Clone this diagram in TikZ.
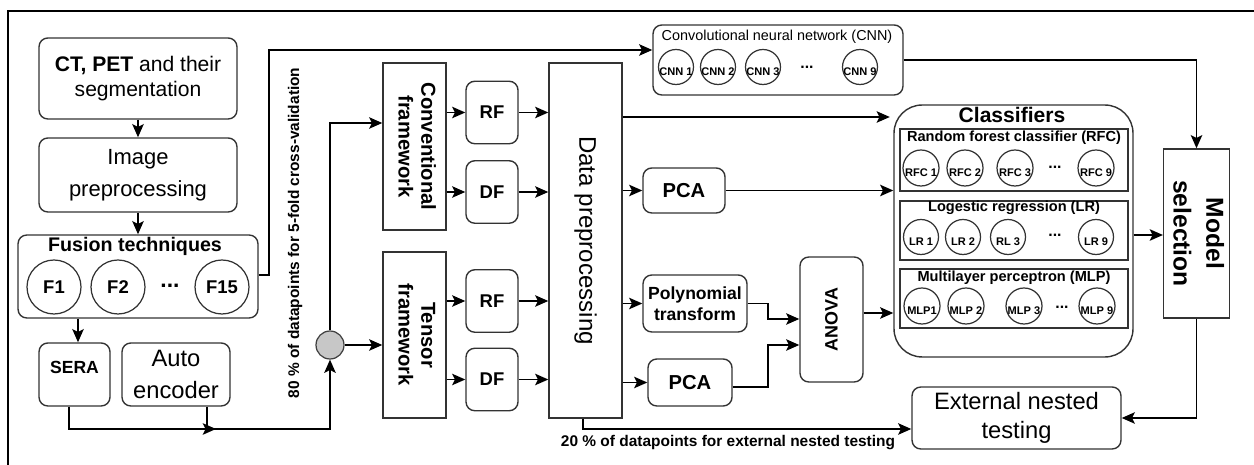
\documentclass[tikz,border=0pt]{standalone}
\usepackage{fontspec}
\setmainfont{Liberation Sans}
\usetikzlibrary{arrows.meta}

\newcommand{\rotlab}[2]{\rotatebox{#1}{\begin{tabular}{@{}c@{}}#2\end{tabular}}}

\tikzset{
  box/.style={draw=black!80, line width=0.8pt, inner sep=0pt, align=center},
  rbox/.style={box, rounded corners=5pt},
  featbox/.style={rbox, minimum width=1.04cm, minimum height=1.25cm, font=\fontsize{10.5}{12}\selectfont\bfseries},
  subbox/.style={box, minimum width=4.56cm, minimum height=1.18cm},
  unit/.style={circle, draw=black!80, line width=0.7pt, minimum size=#1, inner sep=0pt},
  ulbl/.style={font=\fontsize{6.3}{7}\selectfont\bfseries, yshift=-2.6pt},
  subttl/.style={font=\fontsize{8.3}{10}\selectfont\bfseries},
  dots/.style={font=\fontsize{9}{10}\selectfont\bfseries},
  arr/.style={line width=1.1pt, -{Stealth[length=7.5pt,width=6.5pt,inset=1.6pt]}},
}

\begin{document}
\begin{tikzpicture}[x=0.02cm, y=-0.02cm]
\useasboundingbox (0,0) rectangle (1254,465);
\draw[line width=0.8pt] (8,465) -- (8,11) -- (1254,11);

% input side
\node[rbox, minimum width=3.96cm, minimum height=1.62cm, font=\fontsize{12}{14.2}\selectfont] (ct) at (138,78.5) {\textbf{CT, PET} and their\\segmentation};
\node[rbox, minimum width=3.96cm, minimum height=1.48cm, font=\fontsize{12.5}{14.5}\selectfont] (img) at (138,175) {Image\\[3.5pt]preprocessing};
\node[rbox, minimum width=4.8cm, minimum height=1.66cm] (fus) at (138,276.5) {};
\node[font=\fontsize{11.2}{13}\selectfont\bfseries] (fusttl) at (135,246) {Fusion techniques};
\foreach \name/\x/\txt in {f1/54/F1, f2/118/F2, f15/222/F15}
  \node[unit=1.08cm, font=\fontsize{10.5}{12}\selectfont\bfseries] (\name) at (\x,287) {\txt};
\node[font=\fontsize{13}{14}\selectfont\bfseries] (fdots) at (170,286) {...};

\node[rbox, minimum width=1.42cm, minimum height=1.26cm,
  label={[font=\fontsize{10}{12}\selectfont\bfseries, yshift=4.2pt]center:SERA}] (sera) at (74.5,374.5) {};
\node[rbox, minimum width=2.16cm, minimum height=1.26cm, font=\fontsize{13.5}{18}\selectfont] (auto) at (176,374.5) {Auto\\encoder};

\node[circle, draw=black!75, fill=black!22, line width=0.7pt, minimum size=0.56cm, inner sep=0pt] (split) at (330,345) {};
\node[rotate=90, font=\fontsize{8.8}{10}\selectfont\bfseries] (cvlbl) at (295,233) {80 \% of datapoints for 5-fold cross-validation};

% frameworks and features
\node[box, minimum width=1.26cm, minimum height=3.34cm, font=\fontsize{11.5}{13}\selectfont\bfseries] (conv) at (414.5,146.5) {\rotlab{-90}{Conventional\\framework}};
\node[box, minimum width=1.26cm, minimum height=3.32cm, font=\fontsize{11.5}{13}\selectfont\bfseries] (tens) at (414.5,335) {\rotlab{-90}{Tensor\\framework}};
\node[featbox] (rf1) at (492,112.5) {RF};
\node[featbox] (df1) at (492,192) {DF};
\node[featbox] (rf2) at (492,301) {RF};
\node[featbox] (df2) at (492,379.5) {DF};

\node[box, minimum width=1.46cm, minimum height=7.1cm, font=\fontsize{13.7}{16}\selectfont] (dp) at (585.5,240.5) {\rotatebox{-90}{Data preprocessing}};

% CNN branch
\node[rbox, minimum width=5cm, minimum height=1.4cm] (cnn) at (778,60) {};
\node[font=\fontsize{8.2}{10}\selectfont] (cnnttl) at (777,37) {Convolutional neural network (CNN)};
\foreach \i/\x in {1/676, 2/718, 3/763, 9/860}
  \node[unit=0.7cm, label={[ulbl]center:CNN \i}] (cnn\i) at (\x,67) {};
\node[dots] (cnndots) at (807,67) {...};

% feature reduction
\node[rbox, minimum width=1.64cm, minimum height=0.9cm, font=\fontsize{11.5}{13}\selectfont\bfseries] (pca1) at (684,190.5) {PCA};
\node[rbox, minimum width=2.08cm, minimum height=1.14cm, font=\fontsize{10}{12}\selectfont\bfseries] (poly) at (695,303.5) {Polynomial\\transform};
\node[rbox, minimum width=1.68cm, minimum height=0.94cm, font=\fontsize{11.5}{13}\selectfont\bfseries] (pca2) at (690,382.5) {PCA};
\node[rbox, minimum width=1.26cm, minimum height=2.5cm, font=\fontsize{10.2}{12}\selectfont\bfseries] (anova) at (831.5,319.5) {\rotatebox{90}{ANOVA}};

% classifiers
\node[box, rounded corners=16pt, minimum width=4.78cm, minimum height=5.04cm] (cls) at (1013.5,231) {};
\node[font=\fontsize{12}{14}\selectfont\bfseries] (clsttl) at (1012,115) {Classifiers};

\node[subbox, minimum height=1.24cm] (rfc) at (1014,160) {};
\node[subttl] (rfcttl) at (1014,138) {Random forest classifier (RFC)};
\foreach \name/\x/\txt in {rfc1/921/RFC 1, rfc2/965/RFC 2, rfc3/1015/RFC 3, rfc9/1096/RFC 9}
  \node[unit=0.72cm, label={[ulbl]center:\txt}] (\name) at (\x,168) {};
\node[dots] (rfcdots) at (1055,167) {...};

\node[subbox] (lr) at (1014,230.5) {};
\node[subttl] (lrttl) at (1014,208) {Logestic regression (LR)};
\foreach \name/\x/\txt in {lr1/921/LR 1, lr2/963/LR 2, lr3/1008/RL 3, lr9/1096/LR 9}
  \node[unit=0.7cm, label={[ulbl]center:\txt}] (\name) at (\x,237) {};
\node[dots] (lrdots) at (1055,235) {...};

\node[subbox] (mlp) at (1014,298.5) {};
\node[subttl] (mlpttl) at (1014,278) {Multilayer perceptron (MLP)};
\foreach \name/\x/\txt in {mlp1/922/MLP1, mlp2/966/MLP 2, mlp3/1024/MLP 3, mlp9/1097/MLP 9}
  \node[unit=0.72cm, label={[ulbl]center:\txt}] (\name) at (\x,306) {};
\node[dots] (mlpdots) at (1062,307) {...};

\node[box, minimum width=1.26cm, minimum height=3.38cm, font=\fontsize{14}{18.7}\selectfont\bfseries] (msel) at (1196.5,233.5) {\rotlab{-90}{Model\\selection}};
\node[rbox, minimum width=4.18cm, minimum height=1.24cm, font=\fontsize{13.5}{16.4}\selectfont] (ext) at (1016.5,418) {External nested\\testing};
\node[font=\fontsize{8.8}{10}\selectfont\bfseries] (testlbl) at (728,443) {20 \% of datapoints for external nested testing};

% connectors
\draw[arr] (ct) -- (img);
\draw[arr] (img) -- (fus);
\draw[arr] (fus.east |- 0,275) -- ++(10,0) |- (cnn.west |- 0,50);
\draw[arr] (fus.south -| 78,0) -- (sera.north -| 78,0);
\draw[arr] (sera.south -| 69,0) |- (split.south |- 0,429) -- (split.south);
\draw[arr] (auto.south -| 207,0) |- (216,429);
\draw[arr] (split.north) |- (conv.west |- 0,123);
\draw[arr] (split) -- (tens.west |- split);
\foreach \src/\dst in {conv/rf1, conv/df1, tens/rf2, tens/df2}
  \draw[arr] (\src.east |- \dst) -- (\dst.west);
\foreach \src in {rf1, df1, rf2, df2}
  \draw[arr] (\src.east) -- (dp.west |- \src);
\draw[arr, shorten >=2pt] (dp.east |- 0,117) -- (cls.west |- 0,117);
\draw[arr] (dp.east |- pca1) -- (pca1.west);
\draw[arr] (pca1.east) -- (cls.west |- pca1);
\draw[arr] (dp.east |- poly) -- (poly.west);
\draw[arr] (dp.east |- pca2) -- (pca2.west);
\draw[arr] (poly.east) -- ++(20,0) |- (anova.west |- 0,319);
\draw[arr] (pca2.east |- 0,387) -- ++(35,0) |- (anova.west |- 0,345);
\draw[arr] (anova.east |- 0,313) -- (cls.west |- 0,313);
\draw[arr] (cls.east |- 0,235) -- (msel.west |- 0,235);
\draw[arr] (cnn.east) -| (msel.north);
\draw[arr] (msel.south) |- (ext.east);
\draw[arr] (dp.south -| 583,0) |- (ext.west |- 0,429);
\end{tikzpicture}
\end{document}
